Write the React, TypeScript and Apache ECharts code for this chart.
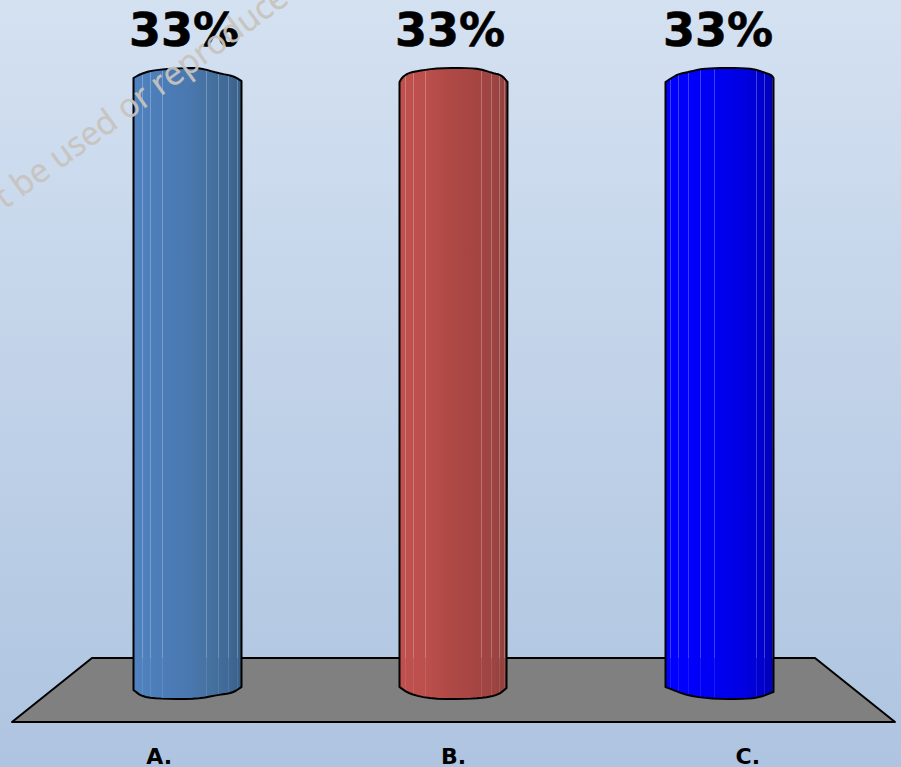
import React, { useEffect, useRef } from "react";
import * as echarts from "echarts";

const categories = ["A.", "B.", "C."];
const votes = [33, 33, 33];
const stampText = ["t be used or reproduce"];

const WIDTH = 901;
const HEIGHT = 767;
const BAR_WIDTH = 108;
const FONT = "'DejaVu Sans', sans-serif";

// Hand-drawn rim of each cylinder: [dx from left edge, dy from the value line].
const topRims = [
  [[0, -2], [7, -6], [20, -10], [50, -12], [67, -12], [84, -7], [100, -4], [108, 1]],
  [[0, 2], [3, -3], [9, -7], [18, -9], [39, -12], [73, -12], [84, -10], [93, -7], [102, -5], [108, 2]],
  [[0, 2], [6, -2], [13, -6], [23, -8], [35, -11], [50, -12], [80, -12], [92, -10], [100, -7], [106, -5], [108, -2]],
];
const bottomRims = [
  [[0, 0], [9, 7], [30, 9], [64, 9], [84, 5], [99, 3], [108, -3]],
  [[0, -3], [10, 4], [32, 9], [70, 9], [90, 7], [100, 4], [107, -2]],
  [[0, -3], [23, 6], [50, 9], [82, 9], [95, 7], [108, 2]],
];
const facetLines = [
  [9, 17, 29, 73, 85, 95, 104],
  [6, 14, 26, 82, 92, 100, 105],
  [5, 13, 23, 35, 49, 91, 99, 107],
];
const shades = [
  ["#4f82bf", "#4c7db8", "#4a78b0", "#45719f", "#3f6896", "#3a6088"],
  ["#bf504d", "#bb4f4c", "#ad4845", "#a54542", "#9c4441", "#8f403e"],
  ["#0000ff", "#0000fb", "#0000f0", "#0000e2", "#0000cf", "#0000b4"],
];
const shadeStops = [0, 0.25, 0.5, 0.72, 0.88, 1];
const labelNudge = [-3, -3, -1];

// Corner-cutting pass that rounds a rim while keeping its end points.
function soften(rim: number[][], passes = 2) {
  let pts = rim;
  for (let p = 0; p < passes; p++) {
    const next = [pts[0]];
    for (let i = 0; i < pts.length - 1; i++) {
      const [x0, y0] = pts[i];
      const [x1, y1] = pts[i + 1];
      next.push([x0 * 0.75 + x1 * 0.25, y0 * 0.75 + y1 * 0.25]);
      next.push([x0 * 0.25 + x1 * 0.75, y0 * 0.25 + y1 * 0.75]);
    }
    next.push(pts[pts.length - 1]);
    pts = next;
  }
  return pts;
}

// Height of a rim at a given horizontal offset.
function rimAt(rim: number[][], dx: number) {
  for (let i = 1; i < rim.length; i++) {
    if (dx <= rim[i][0]) {
      const [x0, y0] = rim[i - 1];
      const [x1, y1] = rim[i];
      return y0 + ((y1 - y0) * (dx - x0)) / (x1 - x0 || 1);
    }
  }
  return rim[rim.length - 1][1];
}

function renderCylinder(params: any, api: any) {
  const i = params.dataIndex;
  const value = api.value(1);
  const [cx, topY] = api.coord([i, value]);
  const [, baseY] = api.coord([i, 0]);
  const left = cx - BAR_WIDTH / 2 + 0.5;
  const top = soften(topRims[i]);
  const bottom = soften(bottomRims[i]);
  const points = [
    ...top.map(([dx, dy]) => [left + dx, topY + dy]),
    ...[...bottom].reverse().map(([dx, dy]) => [left + dx, baseY + dy]),
  ];
  const floorEdge = baseY - 32;
  const children: any[] = [
    {
      type: "polygon",
      shape: { points },
      style: {
        fill: {
          type: "linear",
          x: 0,
          y: 0,
          x2: 1,
          y2: 0,
          colorStops: shades[i].map((color, k) => ({ offset: shadeStops[k], color })),
        },
      },
    },
  ];
  facetLines[i].forEach((dx) => {
    const x = left + dx;
    children.push({
      type: "line",
      shape: { x1: x, y1: topY + rimAt(top, dx), x2: x, y2: floorEdge },
      style: { stroke: "rgba(255,255,255,0.25)", lineWidth: 1 },
    });
    children.push({
      type: "line",
      shape: { x1: x, y1: floorEdge, x2: x, y2: baseY + rimAt(bottom, dx) },
      style: { stroke: "rgba(255,255,255,0.1)", lineWidth: 1 },
    });
  });
  children.push({
    type: "polygon",
    shape: { points },
    style: { fill: "none", stroke: "#000", lineWidth: 2, lineJoin: "round" },
  });
  children.push({
    type: "text",
    x: cx + labelNudge[i],
    y: topY - 50,
    style: {
      text: `${value}%`,
      fill: "#000",
      stroke: "#000",
      lineWidth: 0.6,
      font: `bold 46px ${FONT}`,
      align: "center",
      verticalAlign: "middle",
    },
  });
  return { type: "group", children };
}

// Diagonal stamp that runs across the top-left corner, above the marks.
function renderStamp(params: any) {
  return {
    type: "text",
    x: 7,
    y: 213,
    rotation: (36 * Math.PI) / 180,
    style: {
      text: stampText[params.dataIndex],
      fill: "rgba(200,196,190,0.95)",
      stroke: "rgba(200,196,190,0.95)",
      lineWidth: 0.4,
      font: "33px 'Open Sans', sans-serif",
      align: "left",
      verticalAlign: "bottom",
    },
  };
}

export default function App() {
  const ref = useRef<HTMLDivElement>(null);

  useEffect(() => {
    const chart = echarts.init(ref.current, null, { renderer: "svg" });
    chart.setOption({
      animation: false,
      backgroundColor: {
        type: "linear",
        x: 0,
        y: 0,
        x2: 0,
        y2: 1,
        colorStops: [
          { offset: 0, color: "#d4e1f1" },
          { offset: 1, color: "#aec4e0" },
        ],
      },
      grid: [
        // Front edge of the floor carries the category labels.
        { left: 12, width: 883, top: 80, height: 642 },
        // The cylinders stand further back, so their band is narrower.
        { left: 54, width: 798, top: 80, height: 610 },
      ],
      xAxis: [
        {
          gridIndex: 0,
          type: "category",
          data: categories,
          axisLine: { show: false },
          axisTick: { show: false },
          axisLabel: {
            margin: 24,
            color: "#000",
            fontFamily: FONT,
            fontWeight: "bold",
            fontSize: 22,
          },
        },
        { gridIndex: 1, type: "category", data: categories, show: false },
      ],
      yAxis: [
        { gridIndex: 0, type: "value", min: 0, max: 33, show: false },
        { gridIndex: 1, type: "value", min: 0, max: 33, show: false },
      ],
      graphic: [
        {
          type: "polygon",
          z: 0,
          shape: { points: [[92, 658], [815, 658], [895, 722], [12, 722]] },
          style: { fill: "#808080", stroke: "#000", lineWidth: 2, lineJoin: "round" },
        },
      ],
      series: [
        {
          type: "custom",
          xAxisIndex: 1,
          yAxisIndex: 1,
          z: 2,
          clip: false,
          data: votes.map((v, i) => [i, v]),
          renderItem: renderCylinder,
        },
        {
          type: "custom",
          coordinateSystem: "none",
          z: 10,
          silent: true,
          data: stampText.map((_, i) => [i]),
          renderItem: renderStamp,
        },
      ],
    });
    return () => chart.dispose();
  }, []);

  return (
    <div
      ref={ref}
      style={{ position: "fixed", left: 0, top: 0, width: WIDTH, height: HEIGHT }}
    />
  );
}
